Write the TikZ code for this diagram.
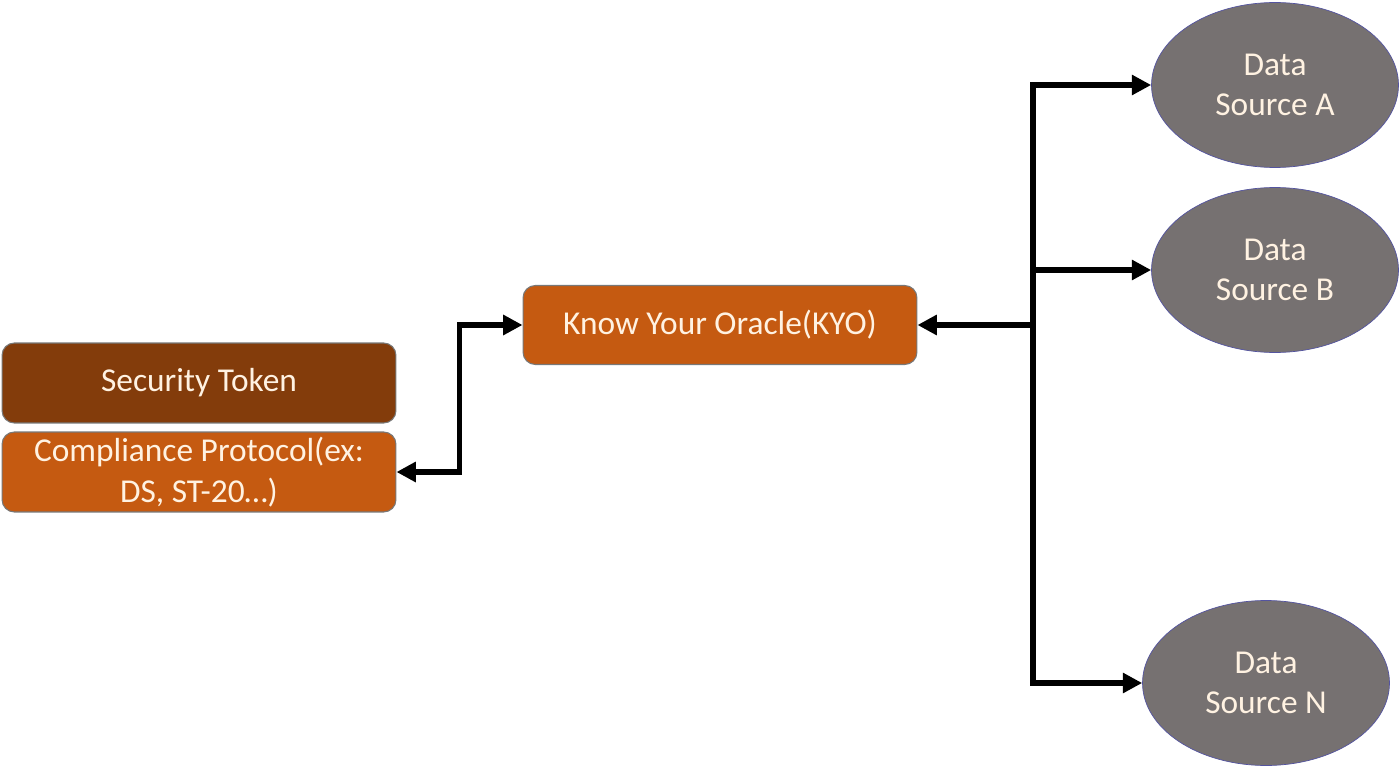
\documentclass[tikz,border=0pt]{standalone}
\usepackage{fontspec}
\setmainfont{Carlito}
\usepackage{tikz}
\usetikzlibrary{shapes,arrows.meta,positioning}
\definecolor{tokencolor}{RGB}{131,60,11}
\definecolor{protocolcolor}{RGB}{197,90,17}
\definecolor{sourcecolor}{RGB}{118,113,113}
\definecolor{labelcolor}{RGB}{255,242,226}
\definecolor{bordercolor}{RGB}{120,120,120}

\tikzset{
  layerbox/.style={draw=bordercolor, line width=0.6pt, rounded corners=7pt,
    minimum width=7.88cm, minimum height=1.6cm, inner sep=2pt,
    text=labelcolor, align=center, font=\fontsize{19}{23}\selectfont},
  sourcenode/.style={ellipse, draw=bordercolor!70!blue, line width=0.4pt,
    fill=sourcecolor, minimum width=4.94cm, minimum height=3.3cm, inner sep=0pt,
    text=labelcolor, align=center, font=\fontsize{19}{23}\selectfont},
  link/.style={line width=2.9pt, line cap=rect,
    arrows={-{Triangle[length=11pt,width=11pt]}}}
}

\begin{document}
\begin{tikzpicture}[x=0.02cm, y=-0.02cm]
    \useasboundingbox[fill=white] (0,0) rectangle (1400,767);

    % left stack
    \node[layerbox, fill=tokencolor] (token) at (199,383) {Security Token};
    \node[layerbox, fill=protocolcolor] (protocol) at (199,472)
        {Compliance Protocol(ex:\\DS, ST-20…)};

    % oracle
    \node[layerbox, fill=protocolcolor, minimum height=1.58cm] (oracle) at (720,325)
        {Know Your Oracle(KYO)};

    % data sources
    \node[sourcenode] (srcA) at (1275,85) {Data\\Source A};
    \node[sourcenode] (srcB) at (1275,270) {Data\\Source B};
    \node[sourcenode] (srcN) at (1266,683) {Data\\Source N};

    % connectors
    \draw[link, arrows={{Triangle[length=11pt,width=11pt]}-{Triangle[length=11pt,width=11pt]}}]
        (protocol.east) -- ++(63,0) |- (oracle.west);

    \coordinate (hub) at (1033,325);
    \draw[link] (hub) -- (oracle.east);
    \draw[link] (hub) |- (srcA.west);
    \draw[link] (hub) |- (srcB.west);
    \draw[link] (hub) |- (srcN.west);
\end{tikzpicture}
\end{document}
